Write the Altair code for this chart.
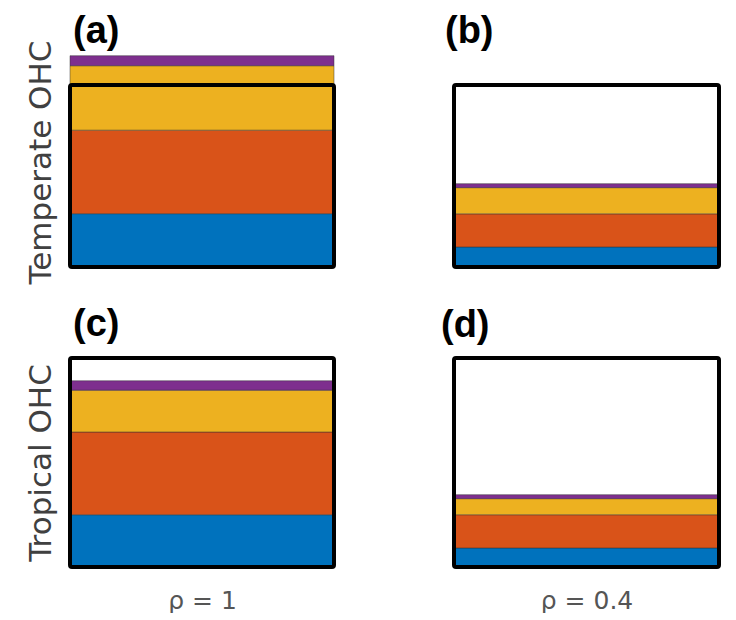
import altair as alt
import pandas as pd

# stacked components, bottom to top
segments = ["s1", "s2", "s3", "s4"]
colors = ["#0072BD", "#D95319", "#EDB120", "#7E2F8E"]

# values as fraction of each panel's vertical extent
vals_a = [0.293, 0.459, 0.354, 0.055]
vals_b = [0.110, 0.182, 0.144, 0.022]
vals_c = [0.250, 0.396, 0.200, 0.045]
vals_d = [0.091, 0.159, 0.077, 0.019]

panel_labels = ["(a)", "(b)", "(c)", "(d)"]
rho_labels = ["ρ = 1", "ρ = 0.4"]
row_titles = ["Temperate OHC", "Tropical OHC"]

TEXT_GRAY = "#404040"


def panel(vals, rho, label, w, h, label_x, label_y, ytitle=None, ytitle_y=None, xtitle=None):
    df = pd.DataFrame({"seg": segments, "order": [1, 2, 3, 4], "value": vals, "rho": [rho] * 4})

    xaxis = dict(labels=False, ticks=False, domain=False, grid=False)
    if xtitle:
        xaxis.update(title=xtitle, titleFont="DejaVu Sans", titleFontSize=25,
                     titleFontWeight="normal", titleColor="#555555", titlePadding=21)
    else:
        xaxis.update(title="")
    yaxis = dict(labels=False, ticks=False, domain=False, grid=False)
    if ytitle:
        yaxis.update(title=ytitle, titleFont="DejaVu Sans", titleFontSize=31,
                     titleFontWeight="normal", titleColor=TEXT_GRAY, titlePadding=13)
        if ytitle_y is not None:
            yaxis.update(titleY=ytitle_y)
    else:
        yaxis.update(title="")

    bars = alt.Chart(df).mark_bar(stroke="#333333", strokeWidth=0.8, strokeOpacity=0.6).encode(
        x=alt.X("rho:N", scale=alt.Scale(paddingInner=0, paddingOuter=0), axis=alt.Axis(**xaxis)),
        y=alt.Y("value:Q", stack="zero", scale=alt.Scale(domain=[0, 1], nice=False),
                axis=alt.Axis(**yaxis)),
        color=alt.Color("seg:N", scale=alt.Scale(domain=segments, range=colors), legend=None),
        order=alt.Order("order:Q"),
    )
    frame = alt.Chart(pd.DataFrame({"k": [0]})).mark_rect(
        fillOpacity=0, stroke="black", strokeWidth=4, cornerRadius=2
    ).encode(x=alt.value(0), x2=alt.value(w), y=alt.value(0), y2=alt.value(h))
    lab = alt.Chart(pd.DataFrame({"t": [label]})).mark_text(
        align="left", baseline="alphabetic", font="Liberation Sans", fontSize=38,
        fontWeight="bold", color="black"
    ).encode(x=alt.value(label_x), y=alt.value(label_y), text="t:N")
    return alt.layer(bars, frame, lab).properties(width=w, height=h)


pa = panel(vals_a, rho_labels[0], panel_labels[0], 264, 182, 3, -42, row_titles[0], 77)
pb = panel(vals_b, rho_labels[1], panel_labels[1], 265, 182, -9, -42)
pc = panel(vals_c, rho_labels[0], panel_labels[2], 264, 209, 3, -22, row_titles[1], None, rho_labels[0])
pd_ = panel(vals_d, rho_labels[1], panel_labels[3], 265, 209, -13, -21, None, None, rho_labels[1])

chart = (
    alt.concat(pa, pb, pc, pd_, columns=2, spacing={"row": 91, "column": 120},
               align="each", bounds="flush")
    .resolve_scale(x="independent", y="independent")
    .properties(padding={"left": 16, "top": 5, "right": 0, "bottom": 0}, background="white")
    .configure_view(stroke=None)
)

chart.save("out.html", embed_options={"renderer": "svg", "actions": False})
